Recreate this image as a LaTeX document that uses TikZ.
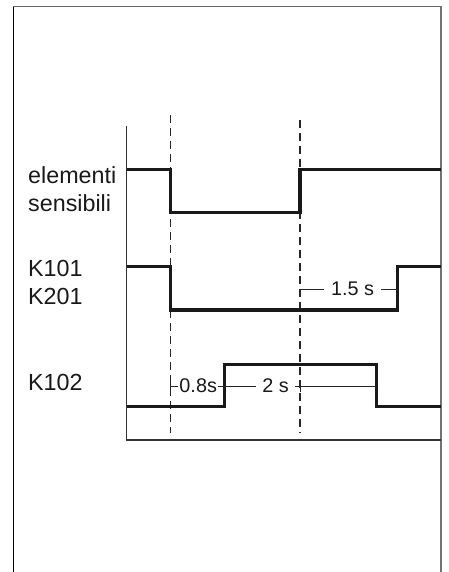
\documentclass[tikz,border=0pt]{standalone}
\usepackage{fontspec}
\setmainfont{Liberation Sans}
\begin{document}
\begin{tikzpicture}[x=1pt,y=-1pt,
  signal/.style={line width=3.3pt,line join=miter,black!90},
  axisline/.style={line width=1.5pt,black!80},
  guide/.style={line width=1.5pt,dash pattern=on 8pt off 5pt,black!85},
  dimline/.style={line width=1pt,black!85},
  lbl/.style={anchor=base west,inner sep=0pt,font=\fontsize{23.3}{27}\selectfont,text=black!90},
  dimtxt/.style={inner sep=0pt,font=\fontsize{19.8}{23}\selectfont,text=black!90}]
\useasboundingbox (0,0) rectangle (449,572);
% frame
\draw[line width=1pt,black] (13.3,6.7) -- (13.3,572);
\draw[line width=1pt,black!60] (13.3,6.7) -- (440.7,6.7);
\draw[line width=2pt,black!55] (440.7,6.2) -- (440.7,572);
% axes
\draw[axisline] (126.7,126) -- (126.7,440) -- (440.7,440);
% guides
\draw[guide] (170.3,115) -- (170.3,433);
\draw[guide] (300,120) -- (300,433);
% signals
\draw[signal] (126.7,169.3) -- (170.3,169.3) -- (170.3,212.3) -- (300,212.3) -- (300,169.3) -- (440.7,169.3);
\draw[signal] (126.7,266.7) -- (170.3,266.7) -- (170.3,310) -- (397.7,310) -- (397.7,266.7) -- (440.7,266.7);
\draw[signal] (126.7,406.7) -- (224.3,406.7) -- (224.3,364.3) -- (376.7,364.3) -- (376.7,406.7) -- (440.7,406.7);
% labels
\node[lbl] (l1) at (28,183.5) {elementi};
\node[lbl] (l2) at (28,211.3) {sensibili};
\node[lbl] (l3) at (28,276) {K101};
\node[lbl] (l4) at (28,304.5) {K201};
\node[lbl] (l5) at (28,390.5) {K102};
% dimension 1.5 s
\coordinate (a15) at (300,289);
\coordinate (b15) at (397.7,289);
\node[dimtxt,inner xsep=7pt] (t15) at (352.5,289) {1.5 s};
\draw[dimline] (300,295) -- (a15) -- (t15.west);
\draw[dimline] (t15.east) -- (b15);
% dimension 0.8s
\coordinate (a08) at (170.3,386);
\coordinate (b08) at (224.3,386);
\node[dimtxt,inner xsep=1pt] (t08) at (198.2,386) {0.8s};
\draw[dimline] (170.3,380.5) -- (170.3,391.5);
\draw[dimline] (a08) -- (t08.west);
\draw[dimline] (t08.east) -- (b08);
% dimension 2 s
\coordinate (b2) at (376.7,386);
\node[dimtxt,inner xsep=6pt] (t2) at (275.5,386) {2 s};
\draw[dimline] (b08) -- (t2.west);
\draw[dimline] (t2.east) -- (b2);
\draw[dimline] (300,380.5) -- (300,391.5);
\end{tikzpicture}
\end{document}
